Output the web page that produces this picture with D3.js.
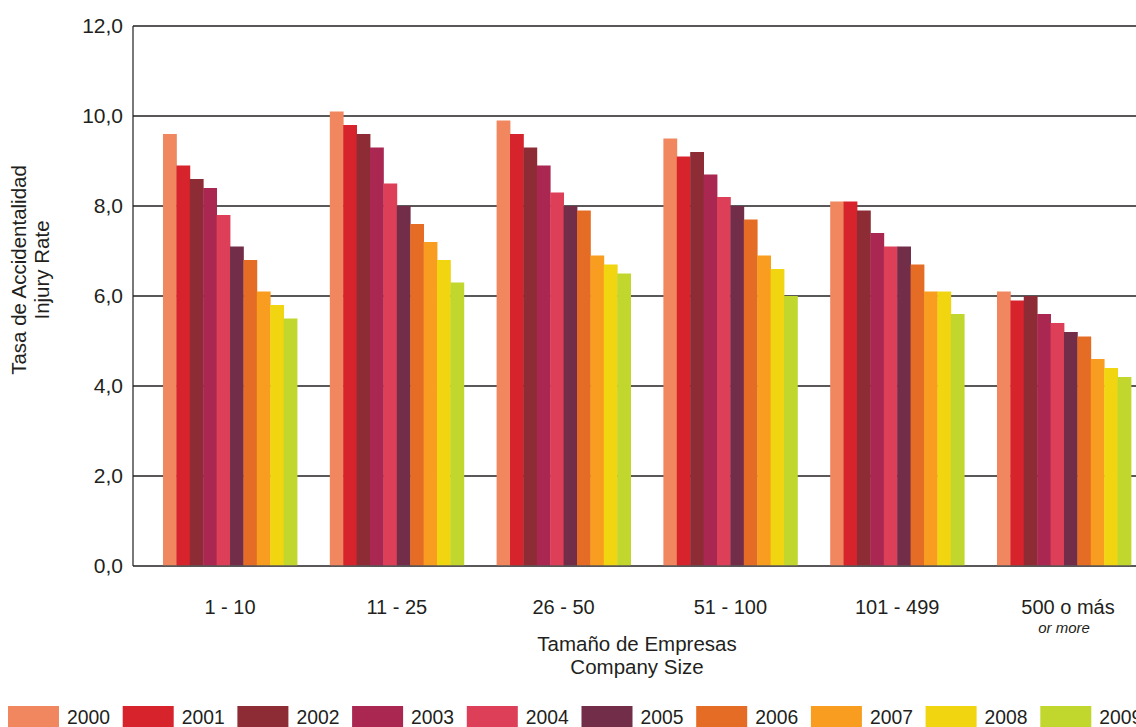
<!DOCTYPE html>
<html>
<head>
<meta charset="utf-8">
<script src="https://cdn.jsdelivr.net/npm/d3@7"></script>
<style>
  html, body { margin: 0; padding: 0; background: #fff; }
  svg { display: block; font-family: "Liberation Sans", Arial, Helvetica, sans-serif; }
</style>
</head>
<body>
<svg id="chart" width="1136" height="727"></svg>
<script>
// ---- data ----
const categories = ["1 - 10", "11 - 25", "26 - 50", "51 - 100", "101 - 499", "500 o más"];
const years = ["2000", "2001", "2002", "2003", "2004", "2005", "2006", "2007", "2008", "2009"];
const values2000 = [9.6, 10.1, 9.9, 9.5, 8.1, 6.1];
const values2001 = [8.9, 9.8, 9.6, 9.1, 8.1, 5.9];
const values2002 = [8.6, 9.6, 9.3, 9.2, 7.9, 6.0];
const values2003 = [8.4, 9.3, 8.9, 8.7, 7.4, 5.6];
const values2004 = [7.8, 8.5, 8.3, 8.2, 7.1, 5.4];
const values2005 = [7.1, 8.0, 8.0, 8.0, 7.1, 5.2];
const values2006 = [6.8, 7.6, 7.9, 7.7, 6.7, 5.1];
const values2007 = [6.1, 7.2, 6.9, 6.9, 6.1, 4.6];
const values2008 = [5.8, 6.8, 6.7, 6.6, 6.1, 4.4];
const values2009 = [5.5, 6.3, 6.5, 6.0, 5.6, 4.2];
const yTicks = [0, 2, 4, 6, 8, 10, 12];
const yTickLabels = ["0,0", "2,0", "4,0", "6,0", "8,0", "10,0", "12,0"];
const colors = ["#F0875F", "#D7232B", "#8E2C35", "#A92751", "#DE3F58", "#722D49", "#E56C24", "#F89D1F", "#F1D510", "#C1D72E"];

const seriesValues = [values2000, values2001, values2002, values2003, values2004,
                      values2005, values2006, values2007, values2008, values2009];

// ---- layout ----
const svg = d3.select("#chart");
const plotLeft = 133, plotTop = 26, plotBottom = 566, plotRightEdge = 1136;
const textColor = "#231f20";

const y = d3.scaleLinear().domain([0, 12]).range([plotBottom, plotTop]);
const x0 = d3.scaleBand().domain(categories).range([plotLeft, 1161])
  .paddingInner(0.1966).paddingOuter(0.18);
const x1 = d3.scaleBand().domain(years).range([0, x0.bandwidth()]).padding(0);
const color = d3.scaleOrdinal().domain(years).range(colors);

// gridlines
svg.append("g").selectAll("line").data(yTicks).join("line")
  .attr("x1", plotLeft).attr("x2", plotRightEdge)
  .attr("y1", d => y(d)).attr("y2", d => y(d))
  .attr("stroke", textColor).attr("stroke-width", 1.5);

// y axis line
svg.append("line").attr("x1", plotLeft).attr("x2", plotLeft)
  .attr("y1", y(12)).attr("y2", y(0))
  .attr("stroke", textColor).attr("stroke-width", 1.2);

// bars
const groups = svg.append("g").selectAll("g").data(categories).join("g")
  .attr("transform", d => `translate(${x0(d)},0)`);
groups.selectAll("rect")
  .data((c, ci) => years.map((yr, si) => ({ year: yr, value: seriesValues[si][ci] })))
  .join("rect")
  .attr("x", d => x1(d.year))
  .attr("width", x1.bandwidth() + 0.4)
  .attr("y", d => y(d.value))
  .attr("height", d => y(0) - y(d.value) - 0.75)
  .attr("fill", d => color(d.year));

// y tick labels
svg.append("g").selectAll("text").data(yTicks).join("text")
  .attr("x", plotLeft - 10).attr("y", d => y(d))
  .attr("dy", "0.35em")
  .attr("text-anchor", "end")
  .attr("font-size", 21).attr("fill", textColor)
  .text((d, i) => yTickLabels[i]);

// x category labels
svg.append("g").selectAll("text").data(categories).join("text")
  .attr("x", d => x0(d) + x0.bandwidth() / 2 + (d === "500 o más" ? 4 : 0))
  .attr("y", 614)
  .attr("text-anchor", "middle")
  .attr("font-size", 20).attr("fill", textColor)
  .text(d => d);

svg.append("text")
  .attr("x", x0("500 o más") + x0.bandwidth() / 2)
  .attr("y", 633)
  .attr("text-anchor", "middle")
  .attr("font-size", 15).attr("font-style", "italic").attr("fill", textColor)
  .text("or more");

// x axis title
svg.append("text").attr("text-anchor", "middle")
  .attr("font-size", 20.5).attr("fill", textColor)
  .attr("x", 637).attr("y", 651).text("Tamaño de Empresas");
svg.append("text").attr("text-anchor", "middle")
  .attr("font-size", 20.5).attr("fill", textColor)
  .attr("x", 637).attr("y", 674).text("Company Size");

// y axis title
const yt = svg.append("text").attr("text-anchor", "middle")
  .attr("font-size", 20.5).attr("fill", textColor)
  .attr("transform", "translate(26,270) rotate(-90)");
yt.append("tspan").attr("x", 0).attr("y", 0).text("Tasa de Accidentalidad");
yt.append("tspan").attr("x", 0).attr("y", 23).text("Injury Rate");

// legend
const legend = svg.append("g").selectAll("g").data(years).join("g")
  .attr("transform", (d, i) => `translate(${8 + i * 114.7},706)`);
legend.append("rect").attr("width", 51).attr("height", 22)
  .attr("fill", d => color(d));
legend.append("text").attr("x", 59).attr("y", 18)
  .attr("font-size", 20).attr("fill", textColor)
  .attr("textLength", 43).attr("lengthAdjust", "spacingAndGlyphs")
  .text(d => d);
</script>
</body>
</html>
